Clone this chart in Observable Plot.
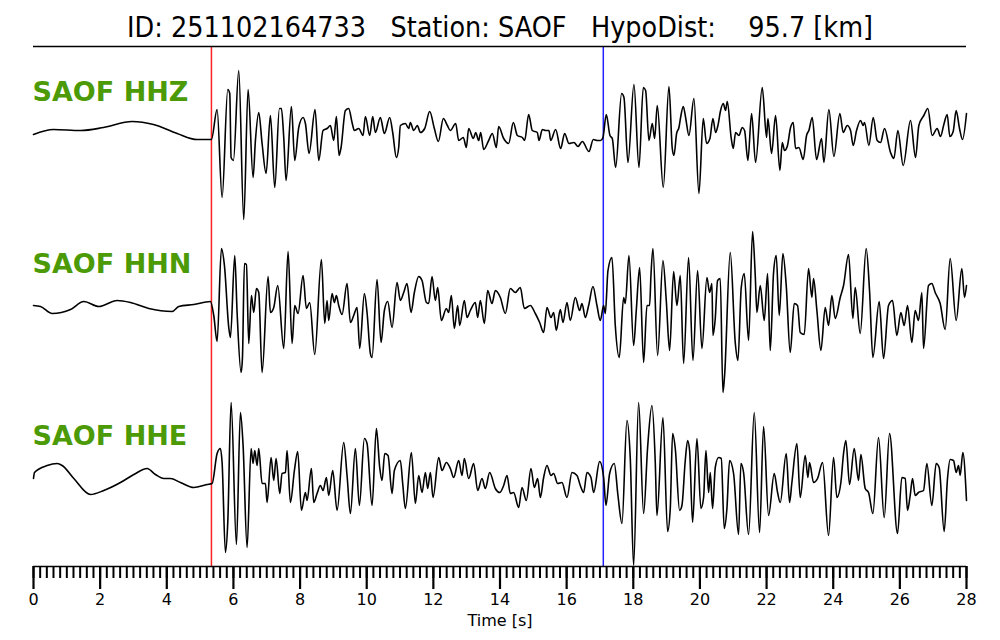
<!DOCTYPE html>
<html><head><meta charset="utf-8">
<script src="https://cdn.jsdelivr.net/npm/d3@7"></script>
<script src="https://cdn.jsdelivr.net/npm/@observablehq/plot@0.6"></script>
<style>
body{margin:0;background:#fff;font-family:"DejaVu Sans",sans-serif;}
svg{display:block}
</style></head><body>
<svg id="title" width="1000" height="44" style="overflow:visible"></svg>
<div id="chart"></div>
<script>
const eventId = "251102164733";
const station = "SAOF";
const hypoDist = "95.7";
const channels = ["HHZ", "HHN", "HHE"];
const picks = [{phase: "P", t: 5.34, color: "#ff2222"}, {phase: "S", t: 17.1, color: "#2222ff"}];
const majorTicks = [0, 2, 4, 6, 8, 10, 12, 14, 16, 18, 20, 22, 24, 26, 28];
const xLabel = "Time [s]";

// [time (s), amplitude (scaled counts)]
const hhz = [[0,-4],[0.6,1],[1.41,0],[2.1,3],[2.96,9],[3.6,6],[4.31,-3],[4.91,-9],[5.34,-9],
[5.51,21],[5.66,-67],[5.83,41],[5.89,37],[5.93,-27],[6.0,-30],[6.16,60],[6.31,-89],[6.44,41],[6.59,-47],[6.66,-10],[6.76,18],[6.86,-13],[6.98,-43],[7.11,15],[7.24,-57],[7.38,22],[7.44,22],[7.51,-7],[7.58,-50],[7.74,24],[7.84,-30],[7.96,3],[8.09,13],[8.16,7],[8.27,-23],[8.45,21],[8.56,-30],[8.69,0],[8.81,2],[8.91,5],[9.01,-10],[9.09,14],[9.17,-25],[9.23,-17],[9.36,20],[9.46,22],[9.56,8],[9.63,0],[9.76,2],[9.89,-5],[9.96,14],[10.09,-5],[10.18,14],[10.26,-2],[10.41,13],[10.53,-3],[10.69,13],[10.78,-2],[10.89,-27],[10.96,-17],[11.01,5],[11.16,7],[11.26,2],[11.31,8],[11.41,0],[11.52,5],[11.61,-2],[11.74,2],[11.89,19],[12.03,2],[12.15,-11],[12.3,12],[12.42,5],[12.51,0],[12.67,7],[12.76,-10],[12.9,-7],[12.99,-17],[13.06,2],[13.2,-8],[13.27,-2],[13.36,-10],[13.42,-2],[13.51,-19],[13.66,-10],[13.77,-3],[13.89,-17],[13.96,4],[14.11,-8],[14.26,-13],[14.4,8],[14.52,-5],[14.67,-7],[14.74,-10],[14.86,16],[14.97,0],[15.12,-2],[15.17,-10],[15.27,1],[15.37,0],[15.47,0],[15.52,-10],[15.67,1],[15.82,-18],[15.94,-3],[16.07,-13],[16.22,-12],[16.34,-16],[16.47,-11],[16.67,-21],[16.8,-9],[16.92,-10],[17.02,-10],[17.09,-7],[17.19,16],[17.3,-5],[17.37,-8],[17.47,-37],[17.65,37],[17.72,33],[17.84,-32],[18.02,46],[18.17,-37],[18.3,43],[18.37,40],[18.47,-10],[18.57,7],[18.64,-8],[18.72,25],[18.9,-57],[19.07,44],[19.17,-18],[19.22,-25],[19.3,-3],[19.37,3],[19.42,13],[19.5,24],[19.57,13],[19.67,-5],[19.82,32],[19.97,-63],[20.1,12],[20.2,-13],[20.3,-8],[20.39,12],[20.47,-2],[20.54,5],[20.62,20],[20.7,27],[20.77,20],[20.82,29],[20.94,-8],[21.0,-18],[21.07,-2],[21.17,-5],[21.27,3],[21.34,0],[21.44,-30],[21.55,17],[21.67,-32],[21.87,43],[22.0,-7],[22.04,12],[22.15,-23],[22.27,15],[22.4,-40],[22.47,-12],[22.54,-20],[22.62,-16],[22.72,3],[22.8,8],[22.87,-18],[22.97,-17],[23.1,-29],[23.2,-5],[23.27,0],[23.37,13],[23.5,-29],[23.65,-8],[23.72,-32],[23.87,21],[24.02,-26],[24.2,17],[24.3,-2],[24.42,5],[24.52,0],[24.6,-15],[24.7,0],[24.82,10],[24.9,5],[24.94,8],[25.07,-15],[25.2,13],[25.32,-10],[25.42,-12],[25.54,2],[25.72,-22],[25.82,-28],[25.94,0],[26.1,-35],[26.32,10],[26.47,-27],[26.57,5],[26.72,15],[26.84,22],[26.97,-5],[27.12,2],[27.22,-6],[27.32,6],[27.42,16],[27.5,-6],[27.6,-1],[27.69,20],[27.79,2],[27.88,-9],[28,17]];

const hhn = [[0,-3],[0.21,-4],[0.56,-11],[1.11,-7],[1.51,1],[1.96,-4],[2.51,2],[2.91,0],[3.46,-6],[4.16,-9],[4.36,-4],[4.81,-2],[5.31,1],
[5.41,-13],[5.51,-39],[5.64,54],[5.73,37],[5.86,-25],[5.91,-35],[6.04,47],[6.11,-10],[6.23,-70],[6.27,-56],[6.33,39],[6.39,38],[6.46,-41],[6.54,7],[6.61,-10],[6.69,14],[6.76,10],[6.86,-70],[7.04,26],[7.11,-10],[7.21,-5],[7.33,17],[7.51,-46],[7.64,51],[7.76,-41],[7.84,-3],[7.94,-11],[8.09,27],[8.19,-6],[8.29,0],[8.44,-52],[8.64,43],[8.74,-21],[8.81,2],[8.86,-18],[8.96,9],[9.03,0],[9.09,7],[9.16,-3],[9.26,-12],[9.41,19],[9.51,-20],[9.61,-13],[9.71,-5],[9.79,-46],[9.93,9],[10.01,-10],[10.11,-51],[10.16,-55],[10.31,23],[10.43,-40],[10.53,-8],[10.63,1],[10.76,-25],[10.91,20],[11.01,2],[11.11,10],[11.21,19],[11.33,-10],[11.43,10],[11.56,26],[11.66,22],[11.79,0],[11.86,-1],[11.96,26],[12.06,2],[12.13,15],[12.24,-18],[12.39,-6],[12.46,-10],[12.54,7],[12.63,-26],[12.73,-3],[12.79,-23],[12.93,2],[13.01,-15],[13.11,-8],[13.26,0],[13.33,-15],[13.41,2],[13.53,-21],[13.63,12],[13.76,-1],[13.86,12],[14.01,5],[14.16,-11],[14.31,14],[14.46,10],[14.61,15],[14.73,-6],[14.91,-3],[15.06,-11],[15.19,-20],[15.31,-30],[15.41,-5],[15.53,-15],[15.61,-10],[15.69,-28],[15.81,-7],[15.89,-20],[16.01,0],[16.11,-18],[16.26,5],[16.39,-8],[16.46,-1],[16.56,-15],[16.66,-3],[16.79,16],[16.91,-3],[17.01,-18],[17.11,-3],[17.16,-11],[17.24,32],[17.36,45],[17.46,-23],[17.58,-55],[17.71,5],[17.76,-1],[17.87,47],[18.01,-43],[18.09,-8],[18.19,35],[18.31,-60],[18.41,-3],[18.49,-3],[18.53,27],[18.59,54],[18.73,-53],[18.89,42],[18.99,2],[19.09,-48],[19.21,31],[19.31,-3],[19.41,27],[19.51,-61],[19.66,45],[19.79,-58],[19.93,32],[20.06,-46],[20.21,25],[20.29,10],[20.36,19],[20.39,-33],[20.46,-16],[20.53,22],[20.61,24],[20.69,-90],[20.74,-73],[20.91,50],[21.06,-40],[21.14,-58],[21.24,15],[21.33,29],[21.46,-38],[21.58,71],[21.66,27],[21.71,-10],[21.81,17],[21.93,-18],[22.03,29],[22.11,-48],[22.21,30],[22.29,47],[22.38,-13],[22.49,49],[22.59,17],[22.71,-50],[22.83,-1],[22.93,-3],[23.01,-30],[23.13,-32],[23.26,34],[23.36,5],[23.41,24],[23.51,-8],[23.63,-48],[23.76,-5],[23.86,-23],[23.96,7],[24.06,-16],[24.21,5],[24.31,17],[24.46,48],[24.59,-16],[24.66,15],[24.81,-31],[24.99,54],[25.09,12],[25.19,-55],[25.38,1],[25.51,-56],[25.66,-3],[25.78,2],[25.91,-33],[26.03,-10],[26.13,-23],[26.23,-3],[26.36,-40],[26.46,-8],[26.56,-18],[26.66,10],[26.71,-46],[26.86,17],[26.96,19],[27.06,10],[27.21,-1],[27.36,-27],[27.51,44],[27.69,-18],[27.86,34],[27.94,5],[28,17]];

const hhe = [[0,-4],[0.03,2],[0.41,9],[0.71,11],[0.86,9],[1.21,-4],[1.71,-20],[2.11,-16],[2.61,-8],[3.01,0],[3.41,6],[3.66,0],[3.91,-4],[4.11,-4],[4.41,-8],[4.81,-13],[5.21,-10],[5.36,-9],
[5.51,21],[5.61,26],[5.66,12],[5.76,-78],[5.83,-48],[5.93,72],[6.09,-70],[6.21,62],[6.29,29],[6.41,-73],[6.53,26],[6.59,11],[6.64,24],[6.71,9],[6.76,26],[6.86,-9],[6.96,-9],[7.01,-28],[7.13,17],[7.21,-6],[7.28,16],[7.39,-19],[7.46,1],[7.56,2],[7.61,24],[7.71,-28],[7.83,4],[7.93,23],[8.04,-36],[8.16,-18],[8.21,-26],[8.34,6],[8.41,-28],[8.51,-19],[8.61,-11],[8.69,-16],[8.79,-3],[8.86,-21],[8.98,4],[9.11,-36],[9.31,32],[9.41,-1],[9.51,-39],[9.66,26],[9.78,-31],[9.93,36],[10.01,31],[10.16,-31],[10.29,46],[10.39,7],[10.46,-6],[10.54,21],[10.64,19],[10.76,-19],[10.83,4],[11.01,14],[11.08,-9],[11.16,-34],[11.34,22],[11.46,-29],[11.56,-1],[11.66,-18],[11.76,2],[11.83,-14],[11.91,2],[11.99,-23],[12.16,17],[12.26,4],[12.39,12],[12.51,6],[12.61,-3],[12.76,14],[12.86,-1],[12.93,16],[13.06,-4],[13.21,11],[13.33,-16],[13.46,-4],[13.56,-14],[13.69,2],[13.86,-14],[13.99,-18],[14.11,-11],[14.21,-1],[14.31,-19],[14.41,-18],[14.56,-33],[14.66,-13],[14.79,-26],[14.93,6],[15.03,-13],[15.13,-4],[15.21,-23],[15.31,-3],[15.41,9],[15.53,-1],[15.61,1],[15.73,-9],[15.86,-8],[16.01,-23],[16.16,2],[16.31,-1],[16.41,-11],[16.51,-18],[16.61,2],[16.73,-3],[16.81,-18],[16.99,13],[17.11,-3],[17.18,-31],[17.29,1],[17.43,11],[17.54,-21],[17.66,-49],[17.81,54],[17.91,16],[18.01,-91],[18.16,72],[18.31,-39],[18.43,27],[18.56,69],[18.66,12],[18.71,-41],[18.89,57],[19.03,-57],[19.11,-34],[19.18,41],[19.26,26],[19.39,-36],[19.46,-31],[19.56,14],[19.63,34],[19.69,24],[19.78,-48],[19.91,36],[20.03,-34],[20.11,-23],[20.18,24],[20.26,-18],[20.31,2],[20.38,-34],[20.46,7],[20.56,17],[20.64,16],[20.73,-54],[20.81,-34],[20.89,14],[21.01,1],[21.16,-60],[21.23,11],[21.31,2],[21.46,-60],[21.63,62],[21.79,-58],[21.91,48],[22.06,-41],[22.23,1],[22.33,-18],[22.41,-28],[22.59,21],[22.69,-28],[22.76,-8],[22.91,31],[23.01,-23],[23.16,19],[23.24,-3],[23.29,12],[23.41,-8],[23.53,-4],[23.68,12],[23.86,-61],[24.01,17],[24.11,-23],[24.23,-8],[24.31,21],[24.38,34],[24.49,-10],[24.63,26],[24.76,-6],[24.83,20],[24.96,-14],[25.06,-18],[25.19,-39],[25.36,37],[25.53,-43],[25.69,41],[25.93,-59],[26.06,-3],[26.16,-4],[26.23,-36],[26.31,-21],[26.38,-4],[26.46,-21],[26.56,-18],[26.71,-16],[26.81,11],[26.96,-31],[27.09,11],[27.18,7],[27.33,-57],[27.43,-4],[27.51,15],[27.61,14],[27.69,2],[27.76,9],[27.81,-1],[27.89,22],[28,-26]];

// title
const titleText = `ID: ${eventId}   Station: ${station}   HypoDist:    ${hypoDist} [km]`;
d3.select("#title").append("text")
  .attr("x", 500).attr("y", 37)
  .attr("text-anchor", "middle")
  .attr("font-family", "DejaVu Sans")
  .attr("font-size", 28)
  .attr("textLength", 746)
  .attr("lengthAdjust", "spacingAndGlyphs")
  .style("white-space", "pre")
  .text(titleText);

// stacked traces: each channel drawn around its own baseline
const spacing = 172;
const traces = {HHZ: hhz, HHN: hhn, HHE: hhe};
const rows = [];
channels.forEach((ch, i) => {
  for (const [t, a] of traces[ch]) rows.push({ch, t, y: -i * spacing + a});
});
const labels = channels.map((ch, i) => ({text: `${station} ${ch}`, y: -i * spacing + 38}));

const minorTicks = d3.range(0, 141).map(i => i / 5);

const chart = Plot.plot({
  width: 1000,
  height: 596,
  marginTop: 2,
  marginBottom: 74,
  marginLeft: 33,
  marginRight: 34,
  x: {domain: [0, 28]},
  y: {domain: [-436, 84], axis: null},
  color: {type: "identity"},
  style: {fontFamily: "DejaVu Sans", fontSize: "16px", color: "black", background: "white"},
  marks: [
    Plot.ruleX(picks, {x: "t", stroke: "color", strokeWidth: 1.5}),
    Plot.line(rows, {x: "t", y: "y", z: "ch", stroke: "black", strokeWidth: 1.6, curve: "monotone-x", strokeLinejoin: "round"}),
    Plot.text(labels, {x: 0, y: "y", text: "text", textAnchor: "start", lineAnchor: "middle", dx: -1,
      fontSize: 27, fontWeight: "bold", fill: "#4b9a06", fontFamily: "DejaVu Sans"}),
    Plot.ruleY([84], {stroke: "black", strokeWidth: 1.5}),
    Plot.ruleY([-436], {stroke: "black", strokeWidth: 1.5}),
    Plot.axisX({ticks: minorTicks, tickSize: 12, tickFormat: () => "", strokeWidth: 2, label: null}),
    Plot.axisX({ticks: majorTicks, tickSize: 23, tickPadding: 4, strokeWidth: 2.2, fontSize: 16, label: null}),
    Plot.text([xLabel], {frameAnchor: "bottom", text: d => d, dy: 59, lineAnchor: "bottom", fontSize: 16, fill: "black"})
  ]
});
document.getElementById("chart").appendChild(chart);
</script>
</body></html>
